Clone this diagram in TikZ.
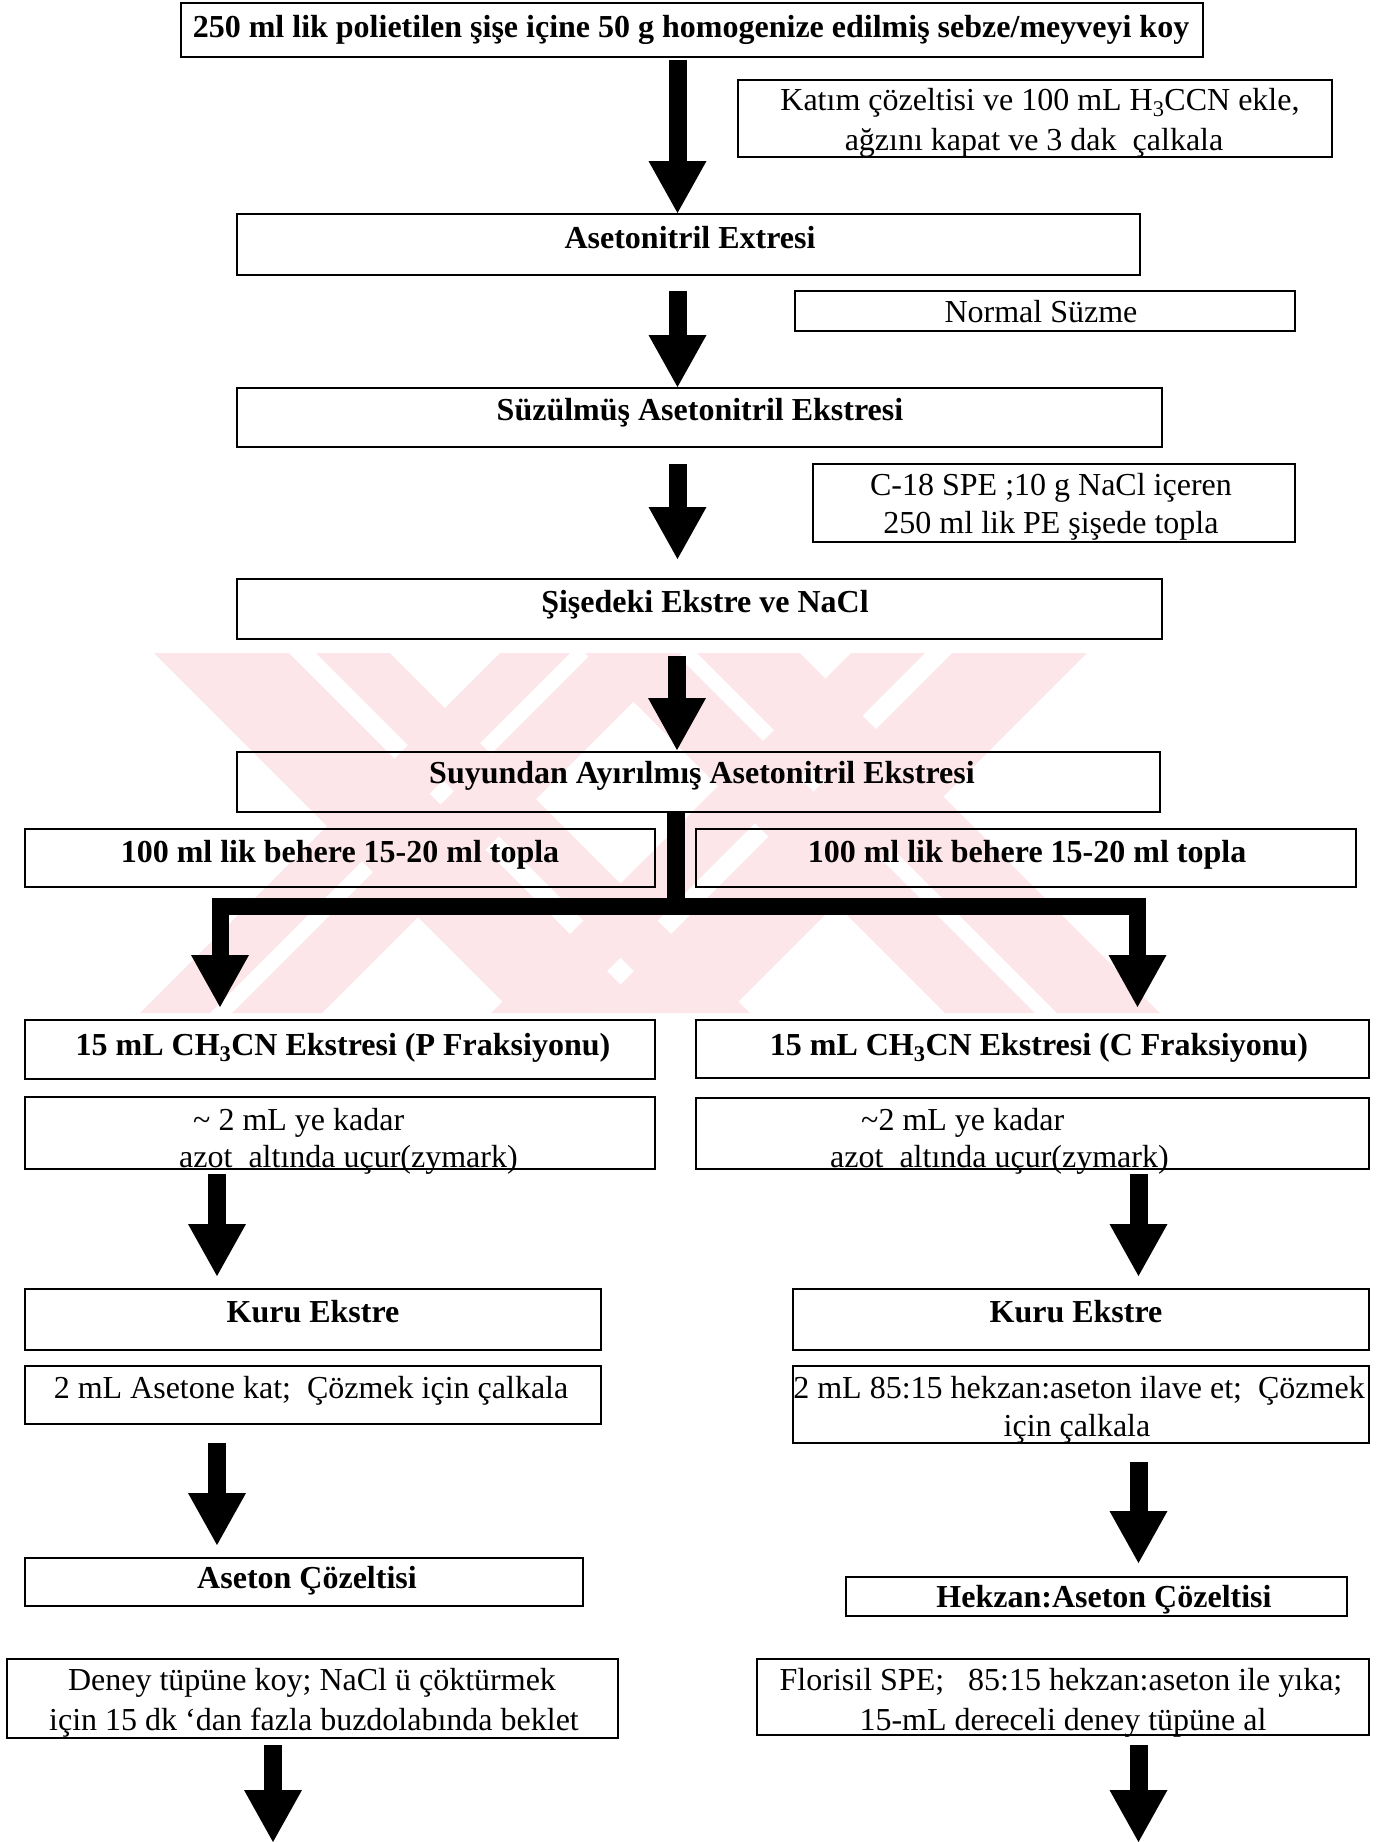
\documentclass[tikz,border=0pt]{standalone}
\usepackage{fontspec}
\setmainfont{Liberation Serif}
\usetikzlibrary{arrows.meta}
\definecolor{wmpink}{RGB}{253,230,234}
\newcommand\bx[5]{\node[box, anchor=north west, minimum width={#4pt-#2pt}, minimum height={#5pt-#3pt}] (#1) at (#2,#3) {};}
\begin{document}
\begin{tikzpicture}[x=1pt,y=-1pt,
  box/.style={draw, line width=1.8pt, inner sep=0pt, outer sep=0pt},
  bt/.style={font=\fontsize{32}{38}\selectfont\bfseries, anchor=base, inner sep=0pt},
  rt/.style={font=\fontsize{32}{38}\selectfont, anchor=base, inner sep=0pt},
  rtw/.style={font=\fontsize{32}{38}\selectfont, anchor=base west, inner sep=0pt},
  bigarrow/.style={line width=18pt, -{Triangle[length=52pt,width=58pt,line width=0pt]}},
  wm/.style={fill=wmpink, draw=none}]
\useasboundingbox (0,0) rectangle (1385,1842);
% watermark
\fill[wm] (154,653) -- (289,653) -- (649,1013) -- (514,1013) -- cycle;
\fill[wm] (316,653) -- (390,653) -- (750,1013) -- (676,1013) -- cycle;
\fill[wm] (500,653) -- (570,653) -- (210,1013) -- (140,1013) -- cycle;
\fill[wm] (592,653) -- (682,653) -- (322,1013) -- (232,1013) -- cycle;
\fill[wm] (585,653) -- (675,653) -- (1035,1013) -- (945,1013) -- cycle;
\fill[wm] (697,653) -- (800,653) -- (1160,1013) -- (1057,1013) -- cycle;
\fill[wm] (851,653) -- (925,653) -- (565,1013) -- (491,1013) -- cycle;
\fill[wm] (952,653) -- (1087,653) -- (727,1013) -- (592,1013) -- cycle;
% boxes
\bx{b1}{181}{3}{1203}{57}
\bx{b2}{738}{80}{1332}{157}
\bx{b3}{237}{214}{1140}{275}
\bx{b4}{795}{291}{1295}{331}
\bx{b5}{237}{388}{1162}{447}
\bx{b6}{813}{464}{1295}{542}
\bx{b7}{237}{579}{1162}{639}
\bx{b8}{237}{752}{1160}{812}
\bx{b9l}{25}{829}{655}{887}
\bx{b9r}{696}{829}{1356}{887}
\bx{b10l}{25}{1020}{655}{1079}
\bx{b10r}{696}{1020}{1369}{1078}
\bx{b11l}{25}{1097}{655}{1169}
\bx{b11r}{696}{1098}{1369}{1169}
\bx{b12l}{25}{1289}{601}{1350}
\bx{b12r}{793}{1289}{1369}{1350}
\bx{b13}{25}{1366}{601}{1424}
\bx{b14}{793}{1366}{1369}{1443}
\bx{b15}{25}{1558}{583}{1606}
\bx{b16}{846}{1577}{1347}{1616}
\bx{b17}{7}{1659}{618}{1738}
\bx{b18}{757}{1659}{1369}{1735}
% texts
\node[bt] (t1) at (691,37) {250 ml lik polietilen şişe içine 50 g homogenize edilmiş sebze/meyveyi koy};
\node[rt] (t2a) at (1040,110) {Katım çözeltisi ve 100 mL H\textsubscript{3}CCN ekle,};
\node[rt] (t2b) at (1034,150) {ağzını kapat ve 3 dak\ \ çalkala};
\node[bt] (t3) at (690,248) {Asetonitril Extresi};
\node[rt] (t4) at (1041,322) {Normal Süzme};
\node[bt] (t5) at (700,420) {Süzülmüş Asetonitril Ekstresi};
\node[rt] (t6a) at (1051,495) {C-18 SPE ;10 g NaCl içeren};
\node[rt] (t6b) at (1051,533) {250 ml lik PE şişede topla};
\node[bt] (t7) at (705,612) {Şişedeki Ekstre ve NaCl};
\node[bt] (t8) at (702,783) {Suyundan Ayırılmış Asetonitril Ekstresi};
\node[bt] (t9l) at (340,862) {100 ml lik behere 15-20 ml topla};
\node[bt] (t9r) at (1027,862) {100 ml lik behere 15-20 ml topla};
\node[bt] (t10l) at (343,1055) {15 mL CH\textsubscript{3}CN Ekstresi (P Fraksiyonu)};
\node[bt] (t10r) at (1039,1055) {15 mL CH\textsubscript{3}CN Ekstresi (C Fraksiyonu)};
\node[rtw] (t11la) at (193,1130) {\textasciitilde\ 2 mL ye kadar};
\node[rtw] (t11lb) at (179,1167) {azot\ \ altında uçur(zymark)};
\node[rtw] (t11ra) at (861,1130) {\textasciitilde 2 mL ye kadar};
\node[rtw] (t11rb) at (830,1167) {azot\ \ altında uçur(zymark)};
\node[bt] (t12l) at (313,1322) {Kuru Ekstre};
\node[bt] (t12r) at (1076,1322) {Kuru Ekstre};
\node[rt] (t13) at (311,1398) {2 mL Asetone kat;\ \ Çözmek için çalkala};
\node[rt] (t14a) at (1079,1398) {2 mL 85:15 hekzan:aseton ilave et;\ \ Çözmek};
\node[rt] (t14b) at (1077,1436) {için çalkala};
\node[bt] (t15) at (307,1588) {Aseton Çözeltisi};
\node[bt] (t16) at (1104,1607) {Hekzan:Aseton Çözeltisi};
\node[rt] (t17a) at (312,1690) {Deney tüpüne koy; NaCl ü çöktürmek};
\node[rt] (t17b) at (314,1730) {için 15 dk ‘dan fazla buzdolabında beklet};
\node[rt] (t18a) at (1061,1690) {Florisil SPE;\ \ \ 85:15 hekzan:aseton ile yıka;};
\node[rt] (t18b) at (1063,1730) {15-mL dereceli deney tüpüne al};
% arrow coordinates
\coordinate (a1s) at (677.5,60);   \coordinate (a1e) at (677.5,213);
\coordinate (a2s) at (677.5,291);  \coordinate (a2e) at (677.5,387);
\coordinate (a3s) at (677.5,464);  \coordinate (a3e) at (677.5,559);
\coordinate (a4s) at (677,656);    \coordinate (a4e) at (677,750);
\coordinate (tr) at (676,906.5);
\coordinate (jl) at (220,906.5);   \coordinate (jr) at (1137.5,906.5);
\coordinate (bl) at (218,1007);    \coordinate (br) at (1137.5,1007);
\coordinate (a5ls) at (217,1174);  \coordinate (a5le) at (217,1276);
\coordinate (a5rs) at (1138.5,1174); \coordinate (a5re) at (1138.5,1276);
\coordinate (a6ls) at (217,1443);  \coordinate (a6le) at (217,1545);
\coordinate (a6rs) at (1138.5,1462); \coordinate (a6re) at (1138.5,1563);
\coordinate (a7ls) at (273,1745);  \coordinate (a7le) at (273,1842);
\coordinate (a7rs) at (1138.5,1745); \coordinate (a7re) at (1138.5,1842);
% arrows
\draw[bigarrow] (a1s) -- (a1e);
\draw[bigarrow] (a2s) -- (a2e);
\draw[bigarrow] (a3s) -- (a3e);
\draw[bigarrow] (a4s) -- (a4e);
\draw[line width=18pt] (b8.south -| tr) -- (tr);
\draw[line width=17pt, line cap=rect] (jl) -- (jr);
\draw[bigarrow, line width=17pt] (jl) -- (jl |- bl);
\draw[bigarrow, line width=17pt] (jr) -- (br);
\draw[bigarrow] (a5ls) -- (a5le);
\draw[bigarrow] (a5rs) -- (a5re);
\draw[bigarrow] (a6ls) -- (a6le);
\draw[bigarrow] (a6rs) -- (a6re);
\draw[bigarrow] (a7ls) -- (a7le);
\draw[bigarrow] (a7rs) -- (a7re);
\end{tikzpicture}
\end{document}
